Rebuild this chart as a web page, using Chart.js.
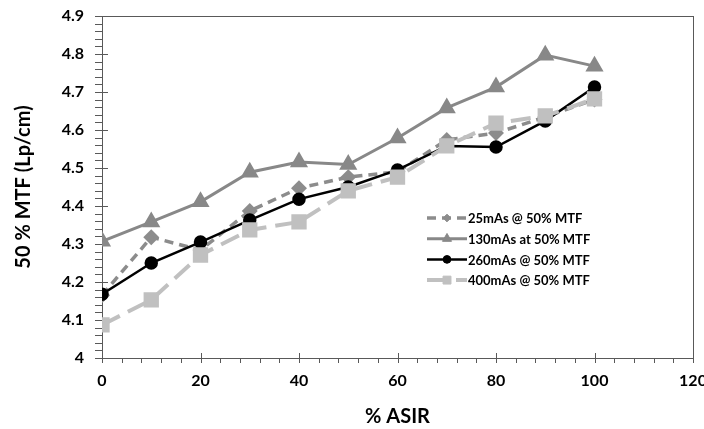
<!DOCTYPE html>
<html>
<head>
<meta charset="utf-8">
<script src="https://cdn.jsdelivr.net/npm/chart.js@4/dist/chart.umd.min.js"></script>
<style>
    html, body { margin: 0; padding: 0; background: #fff; overflow: hidden; }
    #wrap { width: 704px; height: 429px; overflow: hidden; }
</style>
</head>
<body>
<div id="wrap"><canvas id="mtfChart" width="716" height="429"></canvas></div>
<script>
// % ASIR levels and 50% MTF readings (Lp/cm) per tube current
const asirLevels = [0, 10, 20, 30, 40, 50, 60, 70, 80, 90, 100];
const mtf25mAs  = [4.165, 4.318, 4.284, 4.387, 4.447, 4.476, 4.490, 4.574, 4.592, 4.634, 4.680];
const mtf130mAs = [4.307, 4.358, 4.411, 4.489, 4.516, 4.509, 4.579, 4.658, 4.713, 4.797, 4.768];
const mtf260mAs = [4.168, 4.250, 4.305, 4.363, 4.418, 4.450, 4.495, 4.558, 4.555, 4.624, 4.713];
const mtf400mAs = [4.087, 4.153, 4.271, 4.337, 4.358, 4.440, 4.476, 4.558, 4.618, 4.637, 4.682];
const seriesNames = ['25mAs @ 50% MTF', '130mAs at 50% MTF', '260mAs @ 50% MTF', '400mAs @ 50% MTF'];

const frameColor = '#595959';
const fontFamily = 'Lato, "Open Sans", sans-serif';

function toPoints(values) {
    return asirLevels.map((x, i) => ({ x: x, y: values[i] }));
}

// Excel-like frame with major/minor tick marks
const axisFrame = {
    id: 'axisFrame',
    beforeDatasetsDraw(chart) {
        const { ctx, chartArea: a, scales: { x, y } } = chart;
        ctx.save();
        ctx.strokeStyle = frameColor;
        ctx.lineWidth = 1;
        ctx.strokeRect(Math.round(a.left) + 0.5, Math.round(a.top) + 0.5,
            Math.round(a.right - a.left), Math.round(a.bottom - a.top));

        ctx.beginPath();
        for (let k = 0; k <= 45; k++) {
            const py = Math.round(y.getPixelForValue(4 + k * 0.02)) + 0.5;
            const major = k % 5 === 0;
            ctx.moveTo(a.left - 7, py);
            ctx.lineTo(major ? a.left + 6 : a.left, py);
        }
        for (let k = 0; k <= 30; k++) {
            const px = Math.round(x.getPixelForValue(k * 4)) + 0.5;
            const major = (k * 4) % 20 === 0;
            ctx.moveTo(px, major ? a.bottom - 5 : a.bottom);
            ctx.lineTo(px, a.bottom + 5);
        }
        ctx.stroke();
        ctx.restore();
    }
};

// legend placed inside the plot, like the original
const innerLegend = {
    id: 'innerLegend',
    afterDatasetsDraw(chart) {
        const ctx = chart.ctx;
        const x0 = 427, x1 = 467, top = 218, gap = 20.7;
        ctx.save();
        chart.data.datasets.forEach((ds, i) => {
            const ly = top + i * gap;
            ctx.strokeStyle = ds.borderColor;
            ctx.lineWidth = ds.borderWidth;
            ctx.setLineDash(ds.borderDash || []);
            ctx.beginPath();
            ctx.moveTo(x0, ly);
            ctx.lineTo(x1, ly);
            ctx.stroke();
            ctx.setLineDash([]);
            ctx.fillStyle = ds.pointBackgroundColor;
            ctx.strokeStyle = ds.pointBorderColor;
            ctx.lineWidth = 1;
            Chart.helpers.drawPoint(ctx, {
                pointStyle: ds.pointStyle,
                radius: ds.pointRadius * 0.7,
                borderWidth: 1
            }, (x0 + x1) / 2, ly);
            ctx.fillStyle = '#000';
            ctx.font = 'bold 13px ' + fontFamily;
            ctx.textBaseline = 'middle';
            ctx.textAlign = 'left';
            ctx.fillText(seriesNames[i], x1 + 1, ly + 1);
        });
        ctx.restore();
    }
};

document.addEventListener('DOMContentLoaded', function() {
    const ctx = document.getElementById('mtfChart').getContext('2d');

    new Chart(ctx, {
        type: 'line',
        data: {
            datasets: [
                {
                    label: seriesNames[0],
                    data: toPoints(mtf25mAs),
                    borderColor: '#8c8c8c',
                    backgroundColor: '#8c8c8c',
                    pointBackgroundColor: '#8c8c8c',
                    pointBorderColor: '#8c8c8c',
                    borderWidth: 3.5,
                    borderDash: [9, 6],
                    pointStyle: 'rectRot',
                    pointRadius: 5.5,
                    order: 4
                },
                {
                    label: seriesNames[1],
                    data: toPoints(mtf130mAs),
                    borderColor: '#888888',
                    backgroundColor: '#888888',
                    pointBackgroundColor: '#888888',
                    pointBorderColor: '#888888',
                    borderWidth: 3,
                    pointStyle: 'triangle',
                    pointRadius: 7.5,
                    order: 3
                },
                {
                    label: seriesNames[2],
                    data: toPoints(mtf260mAs),
                    borderColor: '#000000',
                    backgroundColor: '#000000',
                    pointBackgroundColor: '#000000',
                    pointBorderColor: '#000000',
                    borderWidth: 2.5,
                    pointStyle: 'circle',
                    pointRadius: 5.5,
                    order: 2
                },
                {
                    label: seriesNames[3],
                    data: toPoints(mtf400mAs),
                    borderColor: '#c0c0c0',
                    backgroundColor: '#c0c0c0',
                    pointBackgroundColor: '#c0c0c0',
                    pointBorderColor: '#c0c0c0',
                    borderWidth: 4,
                    borderDash: [20, 9],
                    pointStyle: 'rect',
                    pointRadius: 8,
                    order: 1
                }
            ]
        },
        options: {
            responsive: false,
            animation: false,
            layout: { padding: { top: 16, right: 23, left: 0, bottom: 0 } },
            plugins: {
                legend: { display: false },
                tooltip: { enabled: false }
            },
            elements: { line: { tension: 0 }, point: { borderWidth: 1 } },
            scales: {
                x: {
                    type: 'linear',
                    min: 0,
                    max: 120,
                    grid: { display: false, drawTicks: false },
                    border: { display: false },
                    ticks: {
                        stepSize: 20,
                        padding: 13,
                        color: '#000',
                        maxRotation: 0,
                        font: { family: fontFamily, size: 16, weight: 'bold' }
                    },
                    title: {
                        display: true,
                        text: '% ASIR',
                        color: '#000',
                        padding: { top: 0, bottom: 0 },
                        font: { family: fontFamily, size: 20, weight: 'bold' }
                    },
                    afterFit(scale) {
                        scale.height = 71;
                        scale.paddingRight = 0;
                        scale.paddingLeft = 0;
                    }
                },
                y: {
                    min: 4,
                    max: 4.9,
                    grid: { display: false, drawTicks: false },
                    border: { display: false },
                    ticks: {
                        stepSize: 0.1,
                        padding: 18,
                        color: '#000',
                        font: { family: fontFamily, size: 16, weight: 'bold' },
                        callback: v => Math.round(v * 10) / 10
                    },
                    title: {
                        display: true,
                        text: '50 % MTF (Lp/cm)',
                        color: '#000',
                        padding: { top: 12, bottom: 0 },
                        font: { family: fontFamily, size: 20, weight: 'bold' }
                    },
                    afterFit(scale) {
                        scale.width = 102;
                        scale.paddingTop = 0;
                        scale.paddingBottom = 0;
                    }
                }
            }
        },
        plugins: [axisFrame, innerLegend]
    });
});
</script>
</body>
</html>
